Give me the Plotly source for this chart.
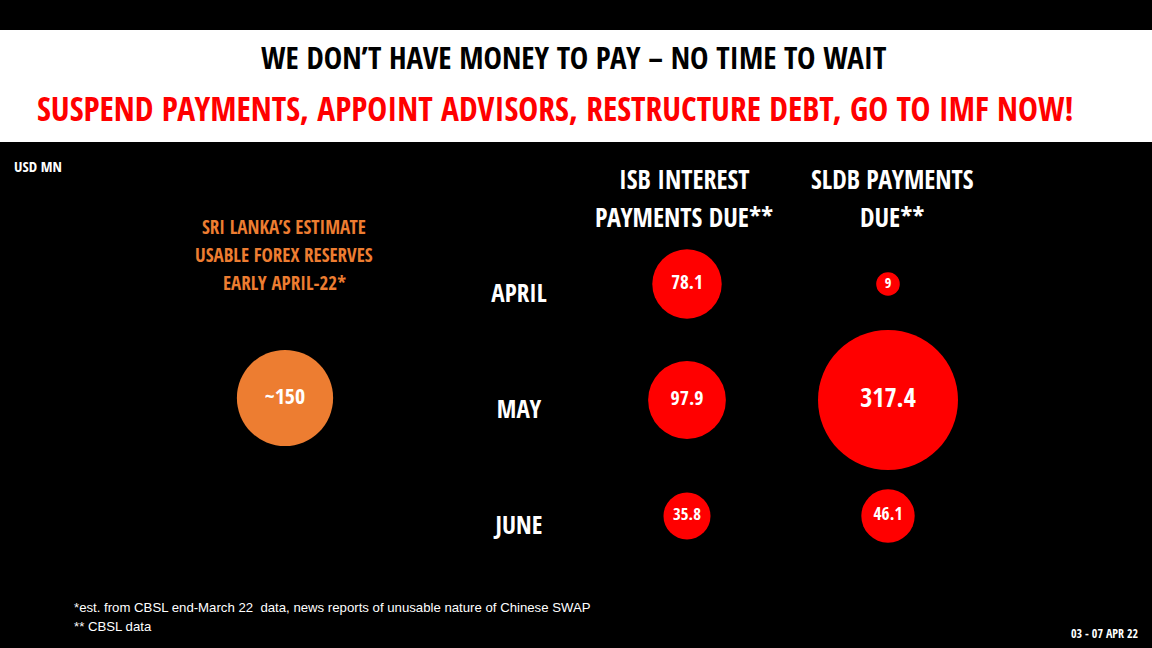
import plotly.graph_objects as go

# ---------------- data ----------------
months = ["APRIL", "MAY", "JUNE"]
isb_interest_due = [78.1, 97.9, 35.8]
sldb_payments_due = [9, 317.4, 46.1]
isb_labels = ["78.1", "97.9", "35.8"]
sldb_labels = ["9", "317.4", "46.1"]
reserves_value = [150]
reserves_label = ["~150"]

# ---------------- layout constants ----------------
W, H = 1152, 648
FONT = "Open Sans Condensed, Roboto Condensed, sans-serif"
BODY_FONT = "Liberation Sans, Arial, sans-serif"
RED = "#FF0000"
ORANGE = "#ED7D31"
COL_X = {"reserves": 285, "isb": 687, "sldb": 888}
ROW_Y = {"APRIL": 284, "MAY": 400, "JUNE": 516}
LABEL_X = 519
MAX_D = 140  # diameter (px) of the largest bubble
global_max = max(isb_interest_due + sldb_payments_due + reserves_value)
sizeref = 2 * global_max / (MAX_D ** 2)


def label_size(v):
    return 12 + 0.8 * v ** 0.5


fig = go.Figure()

fig.add_trace(go.Scatter(
    x=[COL_X["isb"]] * len(months), y=[ROW_Y[m] for m in months],
    mode="markers+text", text=isb_labels,
    textfont=dict(family=FONT, color="white", size=[label_size(v) for v in isb_interest_due]),
    textposition="middle center",
    marker=dict(size=isb_interest_due, sizemode="area", sizeref=sizeref, color=RED,
                opacity=1, line=dict(width=0)),
    hoverinfo="skip", showlegend=False))

fig.add_trace(go.Scatter(
    x=[COL_X["sldb"]] * len(months), y=[ROW_Y[m] for m in months],
    mode="markers+text", text=sldb_labels,
    textfont=dict(family=FONT, color="white", size=[label_size(v) for v in sldb_payments_due]),
    textposition="middle center",
    marker=dict(size=sldb_payments_due, sizemode="area", sizeref=sizeref, color=RED,
                opacity=1, line=dict(width=0)),
    hoverinfo="skip", showlegend=False))

fig.add_trace(go.Scatter(
    x=[COL_X["reserves"]], y=[ROW_Y["MAY"] - 2],
    mode="markers+text", text=reserves_label,
    textfont=dict(family=FONT, color="white", size=22),
    textposition="middle center",
    marker=dict(size=reserves_value, sizemode="area", sizeref=sizeref, color=ORANGE,
                opacity=1, line=dict(width=0)),
    hoverinfo="skip", showlegend=False))

# month labels
fig.add_trace(go.Scatter(
    x=[LABEL_X] * len(months), y=[ROW_Y[m] + 12 for m in months],
    mode="text", text=months,
    textfont=dict(family=FONT, color="white", size=25),
    textposition="middle center", hoverinfo="skip", showlegend=False))

ann = []


def add_text(x, y, text, size, color="white", family=FONT, xanchor="center"):
    ann.append(dict(x=x, y=y, xref="x", yref="y", text=text, showarrow=False,
                    font=dict(family=family, size=size, color=color),
                    xanchor=xanchor, yanchor="middle"))


add_text(574, 57, "<b>WE DON’T HAVE MONEY TO PAY – NO TIME TO WAIT</b>", 31, "black")
add_text(555, 108, "<b>SUSPEND PAYMENTS, APPOINT ADVISORS, RESTRUCTURE DEBT, GO TO IMF NOW!</b>", 33.5, RED)
add_text(12, 166, "<b>USD MN</b>", 15, xanchor="left")
add_text(684, 179, "<b>ISB INTEREST</b>", 26)
add_text(684, 217, "<b>PAYMENTS DUE**</b>", 26)
add_text(892, 179, "<b>SLDB PAYMENTS</b>", 26)
add_text(892, 217, "<b>DUE**</b>", 26)
add_text(284, 227, "<b>SRI LANKA’S ESTIMATE</b>", 19, ORANGE)
add_text(284, 255, "<b>USABLE FOREX RESERVES</b>", 19, ORANGE)
add_text(284, 283, "<b>EARLY APRIL-22*</b>", 19, ORANGE)
add_text(72, 607, "*est. from CBSL end-March 22  data, news reports of unusable nature of Chinese SWAP", 13.2,
         family=BODY_FONT, xanchor="left")
add_text(72, 626, "** CBSL data", 13.2, family=BODY_FONT, xanchor="left")
add_text(1141, 633, "<b>03 - 07 APR 22</b>", 12, xanchor="right")

fig.update_layout(
    width=W, height=H, autosize=False,
    margin=dict(l=0, r=0, t=0, b=0),
    paper_bgcolor="black", plot_bgcolor="black",
    xaxis=dict(range=[0, W], visible=False, fixedrange=True),
    yaxis=dict(range=[H, 0], visible=False, fixedrange=True),
    shapes=[dict(type="rect", xref="paper", yref="y", x0=0, x1=1, y0=30, y1=142,
                 fillcolor="white", line=dict(width=0), layer="below")],
    annotations=ann,
)

fig.write_html("out.html")
